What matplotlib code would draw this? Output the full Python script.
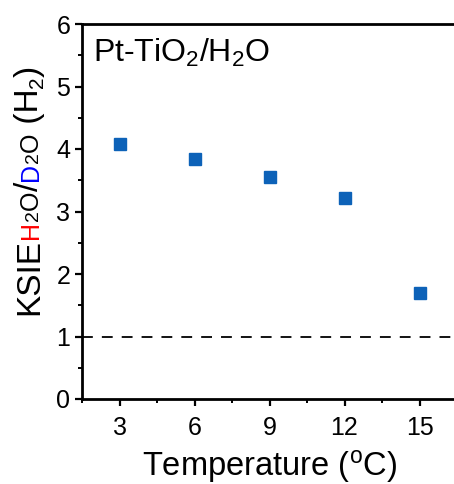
import matplotlib
matplotlib.use("Agg")
import matplotlib.pyplot as plt
from matplotlib.ticker import MultipleLocator

temperature = [3, 6, 9, 12, 15]
ksie = [4.08, 3.84, 3.55, 3.22, 1.70]
reference_level = 1.0

x_ticks = [3, 6, 9, 12, 15]
y_ticks = [0, 1, 2, 3, 4, 5, 6]

plt.rcParams["font.family"] = ["Liberation Sans", "DejaVu Sans"]
plt.rcParams["mathtext.default"] = "regular"

W, H = 454, 484
fig = plt.figure(figsize=(W / 100, H / 100), dpi=100)
ax = fig.add_axes([82 / W, 85 / H, 375 / W, 375 / H])

ax.plot(temperature, ksie, "s", color="#0d62b8", markersize=8, zorder=3)
ax.axhline(reference_level, color="black", lw=1.3, dashes=(6, 5))

ax.set_xlim(1.5, 16.5)
ax.set_ylim(0, 6)
ax.set_xticks(x_ticks)
ax.set_yticks(y_ticks)
ax.xaxis.set_minor_locator(MultipleLocator(1.5))
ax.yaxis.set_minor_locator(MultipleLocator(0.5))
ax.tick_params(which="major", direction="out", length=5, width=1.6, labelsize=18)
ax.tick_params(axis="x", which="major", pad=7)
ax.tick_params(which="minor", direction="out", length=3, width=1.4)
ax.tick_params(top=False, right=False, which="both")
for side in ax.spines.values():
    side.set_linewidth(2)

ax.set_xlabel("Temperature ($^{o}$C)", fontsize=23.5, labelpad=6)

fig.text(93 / W, (H - 62) / H, "Pt-TiO$_2$/H$_2$O", fontsize=23,
         ha="left", va="baseline")

# y label assembled from coloured pieces along a shared baseline
pieces = [
    ("KSIE", "black", 24, 0),
    ("H", "red", 18, 0),
    ("2", "black", 14, 0),
    ("O", "black", 18, 0),
    ("/", "black", 24, 0),
    ("D", "blue", 18, 0),
    ("2", "black", 14, 0),
    ("O", "black", 18, 0),
    (" (H", "black", 24, 0),
    ("2", "black", 15, 5),
    (")", "black", 24, 0),
]
renderer = fig.canvas.get_renderer()
base_x = 38
pos_y = H - 315
for text, color, size, shift in pieces:
    t = fig.text((base_x + shift) / W, pos_y / H, text, color=color, fontsize=size,
                 rotation=90, rotation_mode="anchor", ha="left", va="baseline")
    pos_y = t.get_window_extent(renderer).y1

fig.savefig("out.png", dpi=100)
